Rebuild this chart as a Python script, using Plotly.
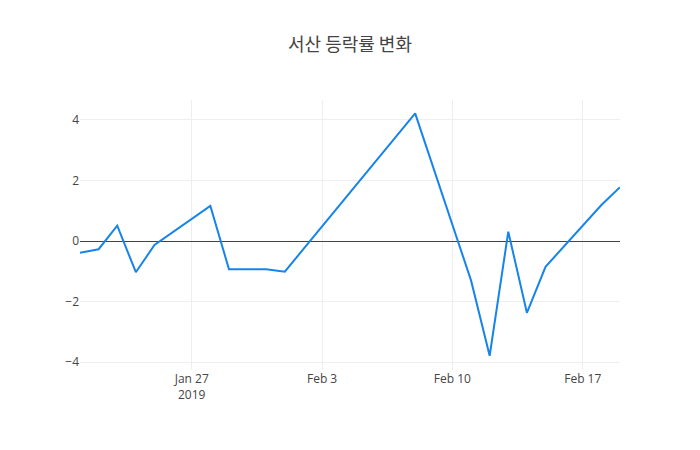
import plotly.graph_objects as go

dates = ["2019-01-21", "2019-01-22", "2019-01-23", "2019-01-24", "2019-01-25",
         "2019-01-28", "2019-01-29", "2019-01-30", "2019-01-31", "2019-02-01",
         "2019-02-08", "2019-02-11", "2019-02-12", "2019-02-13", "2019-02-14",
         "2019-02-15", "2019-02-18", "2019-02-19"]
rates = [-0.39, -0.27, 0.51, -1.03, -0.13,
         1.16, -0.93, -0.93, -0.93, -1.01,
         4.22, -1.3, -3.79, 0.31, -2.37,
         -0.85, 1.19, 1.78]

fig = go.Figure(go.Scatter(x=dates, y=rates, mode="lines",
                           line=dict(color="#1684ea", width=2)))

fig.update_layout(
    width=700, height=450,
    template="none",
    title=dict(text="서산 등락률 변화", x=0.5, y=0.9, xanchor="center", yanchor="middle",
               font=dict(size=18, color="#444", family="Noto Sans CJK KR")),
    font=dict(family="Open Sans", size=12, color="#444"),
    paper_bgcolor="white", plot_bgcolor="white",
    margin=dict(l=80, r=80, t=100, b=80),
    showlegend=False,
    xaxis=dict(showgrid=True, gridcolor="#eee", zeroline=False, showline=False,
               ticks="", range=["2019-01-21", "2019-02-19"],
               tickvals=["2019-01-27", "2019-02-03", "2019-02-10", "2019-02-17"],
               ticktext=["Jan 27<br>2019", "Feb 3", "Feb 10", "Feb 17"]),
    yaxis=dict(showgrid=True, gridcolor="#eee", zeroline=True, zerolinecolor="#444",
               zerolinewidth=1, showline=False, ticks="", range=[-4.26, 4.66],
               tickvals=[-4, -2, 0, 2, 4], ticktext=["−4", "−2", "0", "2", "4"]),
)

fig.write_html("out.html")
